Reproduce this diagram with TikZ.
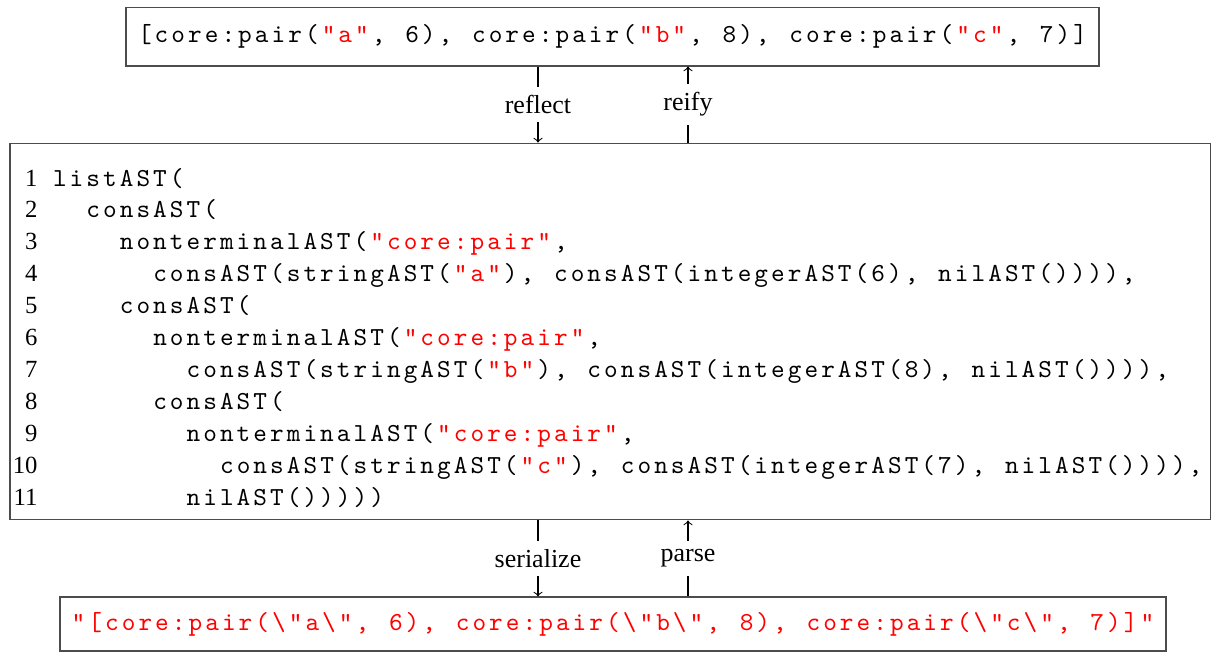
\documentclass[tikz,border=0pt]{standalone}
\usepackage{fontspec}
\setmainfont{Liberation Serif}
\usepackage{xcolor}

% fixed-pitch code: every character sits in a box of width \cw
\newlength{\cw}
\setlength{\cw}{6.43pt}
\ExplSyntaxOn
\NewDocumentCommand{\code}{m}{\str_map_inline:nn {#1} {\makebox[\cw]{##1}}}
\ExplSyntaxOff
\newcommand{\lit}[1]{\textcolor{red}{\code{#1}}}
\newcommand{\ind}[1]{\hspace*{#1\cw}}

\tikzset{
  box/.style={draw=black!70, inner sep=0pt, font=\fontsize{10}{12}\ttfamily},
  lnum/.style={anchor=base east, inner sep=0pt, font=\fontsize{9.5}{11.4}\selectfont},
  lcode/.style={anchor=base west, inner sep=0pt, font=\fontsize{10}{12}\ttfamily},
  lab/.style={fill=white, font=\fontsize{10}{12}\selectfont},
}

\begin{document}
\begin{tikzpicture}[x=0.385pt, y=-0.385pt]
    \useasboundingbox (0,0) rectangle (1211,652);

    % the value
    \node[box, minimum width=374.6pt, minimum height=22.7pt] (top) at (612.5,36.5)
      {\code{[core:pair(}\lit{"a"}\code{, 6), core:pair(}\lit{"b"}\code{, 8), core:pair(}\lit{"c"}\code{, 7)]}};

    % the AST
    \node[box, minimum width=462.2pt, minimum height=145.1pt] (mid) at (610.25,331.5) {};
    \foreach \i in {1,...,11}
      \node[lnum] (n\i) at (38,{154.1+31.9*\i}) {\i};
    \node[lcode] (c1) at (51,186.0) {\code{listAST(}};
    \node[lcode] (c2) at (51,217.9) {\ind{2}\code{consAST(}};
    \node[lcode] (c3) at (51,249.8) {\ind{4}\code{nonterminalAST(}\lit{"core:pair"}\code{,}};
    \node[lcode] (c4) at (51,281.7) {\ind{6}\code{consAST(stringAST(}\lit{"a"}\code{), consAST(integerAST(6), nilAST()))),}};
    \node[lcode] (c5) at (51,313.6) {\ind{4}\code{consAST(}};
    \node[lcode] (c6) at (51,345.5) {\ind{6}\code{nonterminalAST(}\lit{"core:pair"}\code{,}};
    \node[lcode] (c7) at (51,377.4) {\ind{8}\code{consAST(stringAST(}\lit{"b"}\code{), consAST(integerAST(8), nilAST()))),}};
    \node[lcode] (c8) at (51,409.3) {\ind{6}\code{consAST(}};
    \node[lcode] (c9) at (51,441.2) {\ind{8}\code{nonterminalAST(}\lit{"core:pair"}\code{,}};
    \node[lcode] (c10) at (51,473.1) {\ind{10}\code{consAST(stringAST(}\lit{"c"}\code{), consAST(integerAST(7), nilAST()))),}};
    \node[lcode] (c11) at (51,505.0) {\ind{8}\code{nilAST()))))}};

    % the string
    \node[box, text=red, minimum width=425.8pt, minimum height=20.8pt] (bot) at (613,624)
      {\code{"[core:pair(\"a\", 6), core:pair(\"b\", 8), core:pair(\"c\", 7)]"}};

    % conversions
    \coordinate (lx) at (538,0);
    \coordinate (rx) at (688,0);
    \draw[->] (top.south -| lx) -- node[lab] {reflect} (mid.north -| lx);
    \draw[<-] (top.south -| rx) -- node[lab] {reify} (mid.north -| rx);
    \draw[->] (mid.south -| lx) -- node[lab] {serialize} (bot.north -| lx);
    \draw[<-] (mid.south -| rx) -- node[lab] {parse} (bot.north -| rx);
\end{tikzpicture}
\end{document}
